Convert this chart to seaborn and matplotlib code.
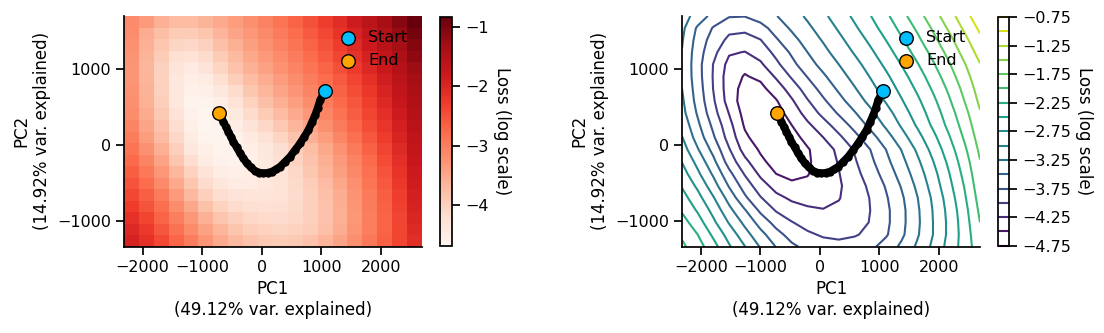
import matplotlib
matplotlib.use("Agg")
import matplotlib.pyplot as plt
from matplotlib.ticker import MultipleLocator
import numpy as np
import pandas as pd
import seaborn as sns

sns.set_theme(style="ticks", context="notebook")
plt.rcParams["font.family"] = ["DejaVu Sans"]
plt.rcParams.update({
    "text.color": "black", "axes.labelcolor": "black",
    "xtick.color": "black", "ytick.color": "black",
    "axes.edgecolor": "black",
    "xtick.labelsize": 11.5, "ytick.labelsize": 11.5,
    "axes.labelsize": 12, "legend.fontsize": 11.5,
})

# ---- data -------------------------------------------------------------
pc1_grid = [-2314, -2051, -1787, -1524, -1261, -997, -734, -471, -207, 56,
            319, 582, 846, 1109, 1372, 1636, 1899, 2162, 2426, 2689]
pc2_grid = [-1335, -1176, -1016, -857, -697, -538, -379, -219, -60, 100,
            259, 419, 578, 737, 897, 1056, 1216, 1375, 1534, 1693]

# log10 loss on the grid, one row per pc2 value (bottom row first)
log_loss_rows = [
    [-1.95, -2.14, -2.41, -2.72, -2.99, -3.27, -3.51, -3.70, -3.82, -3.90, -3.93, -3.90, -3.81, -3.65, -3.45, -3.21, -2.95, -2.67, -2.39, -2.10],
    [-2.04, -2.25, -2.55, -2.85, -3.15, -3.42, -3.66, -3.85, -3.96, -4.03, -4.05, -4.02, -3.95, -3.78, -3.55, -3.28, -3.00, -2.70, -2.39, -2.05],
    [-2.15, -2.39, -2.70, -3.02, -3.31, -3.60, -3.84, -3.99, -4.09, -4.14, -4.14, -4.09, -3.99, -3.81, -3.57, -3.30, -3.00, -2.70, -2.37, -2.00],
    [-2.28, -2.53, -2.83, -3.18, -3.48, -3.80, -4.02, -4.14, -4.21, -4.24, -4.21, -4.13, -4.00, -3.81, -3.57, -3.29, -2.99, -2.68, -2.34, -1.95],
    [-2.40, -2.66, -2.98, -3.34, -3.70, -3.98, -4.18, -4.29, -4.33, -4.32, -4.26, -4.15, -3.99, -3.78, -3.54, -3.26, -2.96, -2.64, -2.29, -1.90],
    [-2.52, -2.80, -3.14, -3.52, -3.86, -4.14, -4.34, -4.45, -4.46, -4.39, -4.28, -4.13, -3.95, -3.73, -3.48, -3.20, -2.90, -2.58, -2.24, -1.85],
    [-2.64, -2.95, -3.29, -3.68, -4.02, -4.30, -4.50, -4.56, -4.51, -4.41, -4.26, -4.08, -3.88, -3.65, -3.40, -3.13, -2.84, -2.52, -2.18, -1.81],
    [-2.76, -3.08, -3.44, -3.86, -4.18, -4.45, -4.59, -4.61, -4.53, -4.40, -4.23, -4.03, -3.81, -3.57, -3.32, -3.05, -2.76, -2.45, -2.12, -1.76],
    [-2.88, -3.23, -3.58, -3.98, -4.35, -4.53, -4.62, -4.61, -4.52, -4.38, -4.19, -3.98, -3.75, -3.50, -3.24, -2.96, -2.67, -2.37, -2.05, -1.70],
    [-2.99, -3.36, -3.72, -4.10, -4.45, -4.63, -4.66, -4.58, -4.43, -4.25, -4.05, -3.83, -3.60, -3.36, -3.10, -2.84, -2.57, -2.28, -1.97, -1.64],
    [-3.08, -3.45, -3.81, -4.17, -4.53, -4.68, -4.65, -4.50, -4.30, -4.10, -3.89, -3.67, -3.44, -3.21, -2.97, -2.72, -2.46, -2.19, -1.90, -1.58],
    [-3.17, -3.53, -3.91, -4.26, -4.59, -4.68, -4.60, -4.40, -4.15, -3.93, -3.72, -3.52, -3.31, -3.10, -2.87, -2.63, -2.39, -2.12, -1.83, -1.52],
    [-3.21, -3.59, -3.97, -4.36, -4.63, -4.65, -4.52, -4.28, -4.02, -3.79, -3.58, -3.38, -3.18, -2.98, -2.77, -2.55, -2.31, -2.04, -1.75, -1.45],
    [-3.25, -3.62, -4.01, -4.38, -4.59, -4.57, -4.38, -4.14, -3.88, -3.66, -3.46, -3.27, -3.08, -2.89, -2.68, -2.46, -2.22, -1.96, -1.68, -1.39],
    [-3.27, -3.65, -4.02, -4.38, -4.52, -4.45, -4.22, -3.97, -3.74, -3.54, -3.35, -3.17, -2.99, -2.80, -2.59, -2.37, -2.13, -1.87, -1.60, -1.33],
    [-3.27, -3.66, -4.01, -4.33, -4.43, -4.29, -4.06, -3.82, -3.60, -3.42, -3.25, -3.08, -2.90, -2.70, -2.49, -2.27, -2.03, -1.78, -1.52, -1.26],
    [-3.26, -3.64, -3.93, -4.22, -4.26, -4.15, -3.93, -3.71, -3.50, -3.32, -3.15, -2.98, -2.80, -2.60, -2.39, -2.16, -1.93, -1.68, -1.42, -1.16],
    [-3.23, -3.60, -3.86, -4.06, -4.10, -4.01, -3.78, -3.59, -3.39, -3.23, -3.06, -2.89, -2.70, -2.50, -2.28, -2.06, -1.82, -1.58, -1.32, -1.06],
    [-3.19, -3.54, -3.77, -3.93, -3.94, -3.84, -3.65, -3.46, -3.30, -3.14, -2.97, -2.79, -2.60, -2.40, -2.18, -1.96, -1.72, -1.47, -1.21, -0.95],
    [-3.15, -3.34, -3.59, -3.73, -3.74, -3.64, -3.51, -3.36, -3.21, -3.05, -2.88, -2.70, -2.51, -2.30, -2.08, -1.85, -1.61, -1.36, -1.10, -0.83],
]

# optimisation trajectory (first point = start, last point = end)
traj_pc1 = [1064, 1020, 980, 940, 896, 840, 784, 714, 644, 560, 476, 392, 308, 238,
            168, 97, 27, -43, -113, -183, -252, -310, -365, -421, -477, -520, -561,
            -603, -645, -685, -718]
traj_pc2 = [709, 650, 591, 490, 394, 295, 197, 110, 22, -65, -153, -220, -284, -320,
            -350, -365, -372, -362, -341, -295, -240, -175, -109, -33, 43, 110, 175,
            240, 306, 365, 416]

contour_levels = [-4.75, -4.5, -4.25, -4.0, -3.75, -3.5, -3.25, -3.0, -2.75, -2.5,
                  -2.25, -2.0, -1.75, -1.5, -1.25, -1.0, -0.75]
heat_ticks = [-4, -3, -2, -1]

pc1_label = "PC1\n(49.12% var. explained)"
pc2_label = "PC2\n(14.92% var. explained)"
cbar_label = "Loss (log scale)"

# ---- figure -----------------------------------------------------------
Z = np.array(log_loss_rows)
X, Y = np.meshgrid(pc1_grid, pc2_grid)
traj = pd.DataFrame({"pc1": traj_pc1, "pc2": traj_pc2})
extent = [min(pc1_grid), max(pc1_grid), min(pc2_grid), max(pc2_grid)]

fig = plt.figure(figsize=(11.04, 3.33), dpi=100)
ax1 = fig.add_axes([0.1123, 0.2592, 0.2699, 0.6928])
cax1 = fig.add_axes([0.3986, 0.2622, 0.0109, 0.6868])
ax2 = fig.add_axes([0.6178, 0.2592, 0.2699, 0.6928])
cax2 = fig.add_axes([0.9040, 0.2622, 0.0100, 0.6868])

im = ax1.imshow(Z, origin="lower", extent=extent, aspect="auto", cmap="Reds")
cb1 = fig.colorbar(im, cax=cax1)
cb1.set_ticks(heat_ticks)

cs = ax2.contour(X, Y, Z, levels=contour_levels, cmap="viridis")
cb2 = fig.colorbar(cs, cax=cax2)
cb2.set_ticks(contour_levels[::2])

for cb in (cb1, cb2):
    cb.set_label(cbar_label, rotation=270, labelpad=16)
    cb.outline.set_edgecolor("black")

for ax in (ax1, ax2):
    sns.lineplot(data=traj, x="pc1", y="pc2", sort=False, estimator=None,
                 color="black", linewidth=5.5, ax=ax, zorder=3)
    sns.scatterplot(data=traj, x="pc1", y="pc2", color="black", s=36,
                    linewidth=0, ax=ax, zorder=3)
    sns.scatterplot(x=[traj_pc1[0]], y=[traj_pc2[0]], color="#00bfff", s=95,
                    edgecolor="black", linewidth=1, label="Start", ax=ax, zorder=4)
    sns.scatterplot(x=[traj_pc1[-1]], y=[traj_pc2[-1]], color="#ffa500", s=95,
                    edgecolor="black", linewidth=1, label="End", ax=ax, zorder=4)
    ax.set_xlim(extent[0], extent[1])
    ax.set_ylim(extent[2], extent[3])
    ax.xaxis.set_major_locator(MultipleLocator(1000))
    ax.yaxis.set_major_locator(MultipleLocator(1000))
    ax.legend(loc="upper right", frameon=False, handletextpad=0.3)
    ax.set_xlabel(pc1_label)
    ax.set_ylabel(pc2_label)
    sns.despine(ax=ax)

fig.savefig("out.png", dpi=100)
